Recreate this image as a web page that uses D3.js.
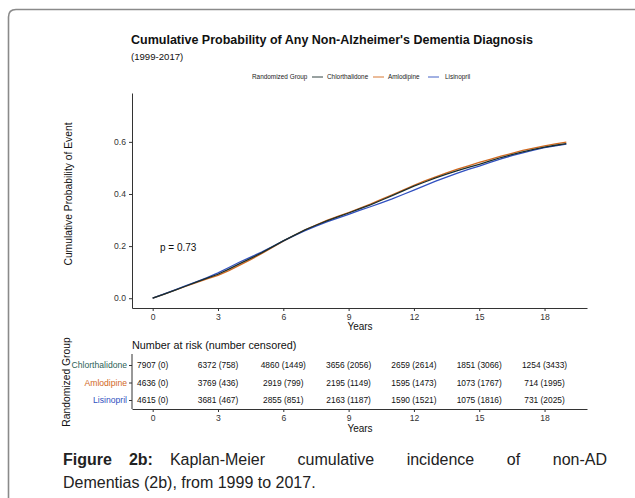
<!DOCTYPE html>
<html>
<head>
<meta charset="utf-8">
<script src="https://d3js.org/d3.v7.min.js"></script>
<style>
  body { margin: 0; background: #fff; }
  svg { display: block; font-family: "Liberation Sans", Arial, sans-serif; }
</style>
</head>
<body>
<div class="vis"></div>
<script>
// --- data ---
var groups = ["Chlorthalidone", "Amlodipine", "Lisinopril"];
var years = [0, 0.5, 1, 1.5, 2, 2.5, 3, 3.5, 4, 4.5, 5, 5.5, 6, 6.5, 7, 7.5, 8, 8.5, 9, 9.5,
             10, 10.5, 11, 11.5, 12, 12.5, 13, 13.5, 14, 14.5, 15, 15.5, 16, 16.5, 17, 17.5, 18, 18.5, 19];
var chlorthalidone = [0, .015, .030, .046, .062, .077, .092, .112, .133, .153,
                      .174, .197, .220, .241, .262, .280, .297, .312, .327, .343,
                      .358, .376, .394, .412, .430, .446, .462, .476, .490, .502,
                      .514, .527, .540, .551, .562, .571, .580, .587, .593];
var amlodipine = [0, .015, .030, .045, .060, .074, .088, .106, .127, .148,
                  .171, .195, .219, .241, .262, .281, .299, .314, .329, .345,
                  .361, .379, .397, .415, .433, .450, .466, .481, .495, .508,
                  .521, .533, .545, .556, .567, .576, .585, .592, .599];
var lisinopril = [0, .016, .031, .047, .063, .079, .097, .118, .139, .158,
                  .177, .198, .220, .240, .259, .277, .293, .307, .322, .337,
                  .351, .366, .381, .398, .415, .432, .449, .465, .480, .494,
                  .507, .521, .535, .547, .558, .568, .578, .585, .591];
var xTicks = [0, 3, 6, 9, 12, 15, 18];
var yTicks = [0, 0.2, 0.4, 0.6];
var riskChlor = ["7907 (0)", "6372 (758)", "4860 (1449)", "3656 (2056)", "2659 (2614)", "1851 (3066)", "1254 (3433)"];
var riskAmlo  = ["4636 (0)", "3769 (436)", "2919 (799)", "2195 (1149)", "1595 (1473)", "1073 (1767)", "714 (1995)"];
var riskLisi  = ["4615 (0)", "3681 (467)", "2855 (851)", "2163 (1187)", "1590 (1521)", "1075 (1816)", "731 (2025)"];
var pValue = "p = 0.73";

var lineColor = ["#1b2f2c", "#d2691e", "#3050c0"];
var labelColor = ["#2d5f57", "#d2691e", "#3050c0"];

width = 635;
height = 498;

var svg = d3.select(".vis").append("svg")
    .attr("width", width)
    .attr("height", height);

// frame with rounded top-left corner
svg.append("path")
    .attr("d", "M8.5,498 V17 Q8.5,9.5 16,9.5 H635")
    .attr("fill", "none")
    .attr("stroke", "#8a8a8a")
    .attr("stroke-width", 1.6);

var x = d3.scaleLinear().domain([-0.95, 19.95]).range([132, 587]);
var y = d3.scaleLinear().domain([-0.0375, 0.7875]).range([308, 93]);

// titles
svg.append("text").attr("x", 131).attr("y", 44)
    .attr("font-size", 12.5).attr("font-weight", "bold").attr("fill", "#111")
    .text("Cumulative Probability of Any Non-Alzheimer's Dementia Diagnosis");
svg.append("text").attr("x", 131).attr("y", 60)
    .attr("font-size", 9.6).attr("fill", "#111")
    .text("(1999-2017)");

// legend
var leg = svg.append("g").attr("font-size", 6.4).attr("fill", "#222");
leg.append("text").attr("x", 252).attr("y", 79).text("Randomized Group");
var legItems = [
    { name: groups[0], lx: 312, tx: 327 },
    { name: groups[1], lx: 373, tx: 388 },
    { name: groups[2], lx: 428, tx: 445 }
];
legItems.forEach(function (d, i) {
    leg.append("line").attr("x1", d.lx).attr("x2", d.lx + 11).attr("y1", 77).attr("y2", 77)
        .attr("stroke", lineColor[i]).attr("stroke-width", 0.9);
    leg.append("text").attr("x", d.tx).attr("y", 79).text(d.name);
});

// axes
function styleAxis(g) {
    g.selectAll(".domain").attr("stroke", "#333").attr("stroke-width", 1);
    g.selectAll(".tick line").attr("stroke", "#333");
    g.selectAll(".tick text").attr("fill", "#333").attr("font-size", 8.6)
        .attr("font-family", "Liberation Sans, Arial, sans-serif");
}

svg.append("g").attr("transform", "translate(132,0)")
    .call(d3.axisLeft(y).tickValues(yTicks).tickFormat(d3.format(".1f")).tickSize(3).tickSizeOuter(0).tickPadding(3))
    .call(styleAxis);

svg.append("g").attr("transform", "translate(0,308)")
    .call(d3.axisBottom(x).tickValues(xTicks).tickSize(3).tickSizeOuter(0).tickPadding(3))
    .call(styleAxis);

svg.append("text").attr("transform", "translate(72,194) rotate(-90)")
    .attr("text-anchor", "middle").attr("font-size", 10.3).attr("fill", "#111")
    .text("Cumulative Probability of Event");
svg.append("text").attr("x", 360).attr("y", 330)
    .attr("text-anchor", "middle").attr("font-size", 10).attr("fill", "#111")
    .text("Years");

// curves
var series = [chlorthalidone, amlodipine, lisinopril];
var line = d3.line().x(function (d, i) { return x(years[i]); }).y(function (d) { return y(d); });
[1, 2, 0].forEach(function (k) {
    svg.append("path")
        .datum(series[k])
        .attr("d", line)
        .attr("fill", "none")
        .attr("stroke", lineColor[k])
        .attr("stroke-width", 1.3);
});

svg.append("text").attr("x", 160).attr("y", 251)
    .attr("font-size", 10).attr("fill", "#111").text(pValue);

// risk table
svg.append("text").attr("x", 132).attr("y", 349)
    .attr("font-size", 10.8).attr("fill", "#111")
    .text("Number at risk (number censored)");

var yr = d3.scalePoint().domain(groups).range([365, 400]);
var tbl = svg.append("g").attr("transform", "translate(132,0)")
    .call(d3.axisLeft(yr).tickSize(3).tickSizeOuter(0).tickPadding(2))
    .call(styleAxis);
tbl.select(".domain").remove();
tbl.append("line").attr("x1", 0).attr("x2", 0).attr("y1", 354).attr("y2", 409).attr("stroke", "#333");
tbl.selectAll(".tick text").attr("font-size", 8.6)
    .attr("fill", function (d, i) { return labelColor[i]; });

svg.append("g").attr("transform", "translate(0,409)")
    .call(d3.axisBottom(x).tickValues(xTicks).tickSize(3).tickSizeOuter(0).tickPadding(3))
    .call(styleAxis);

[riskChlor, riskAmlo, riskLisi].forEach(function (row, r) {
    svg.append("g").selectAll("text")
        .data(row)
        .join("text")
        .attr("x", function (d, i) { return x(xTicks[i]); })
        .attr("y", yr(groups[r]) + 3)
        .attr("text-anchor", "middle")
        .attr("font-size", 8.4)
        .attr("fill", "#111")
        .text(function (d) { return d; });
});

svg.append("text").attr("x", 360).attr("y", 432)
    .attr("text-anchor", "middle").attr("font-size", 10).attr("fill", "#111")
    .text("Years");
svg.append("text").attr("transform", "translate(70,382) rotate(-90)")
    .attr("text-anchor", "middle").attr("font-size", 10.3).attr("fill", "#111")
    .text("Randomized Group");

// caption, first line justified
var capWords = [["Figure", true], ["2b:", true], ["Kaplan-Meier", false], ["cumulative", false],
                ["incidence", false], ["of", false], ["non-AD", false]];
var capG = svg.append("g").attr("font-size", 16).attr("fill", "#222");
var nodes = capWords.map(function (w) {
    return capG.append("text").attr("y", 465)
        .attr("font-weight", w[1] ? "bold" : "normal").text(w[0]);
});
var widths = nodes.map(function (n) { return n.node().getComputedTextLength(); });
var shortGap = 17;
var gap = (607 - 63 - d3.sum(widths) - 2 * shortGap) / (nodes.length - 3);
var cx = 63;
nodes.forEach(function (n, i) {
    n.attr("x", cx);
    cx += widths[i] + (i < 2 ? shortGap : gap);
});
capG.append("text").attr("x", 63).attr("y", 488).text("Dementias (2b), from 1999 to 2017.");
</script>
</body>
</html>
